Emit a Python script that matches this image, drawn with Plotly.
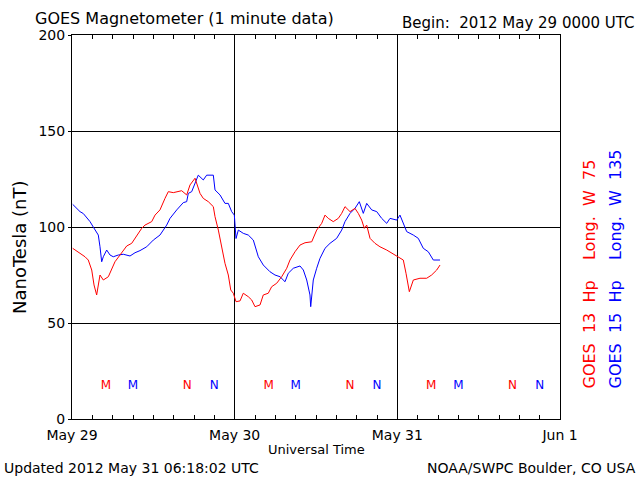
import plotly.graph_objects as go

# ---- data (hours since 2012-05-29 00:00 UTC, nT) ----
g15_hours = [0.10, 1.18, 1.67, 2.66, 3.14, 3.88, 4.13, 4.38, 4.62, 5.12, 5.61, 6.09, 6.83, 7.57, 8.56,
             9.30, 10.03, 11.02, 12.00, 12.98, 13.97, 14.46, 15.45, 16.42, 16.92, 17.16, 17.66, 18.15,
             18.63, 19.37, 19.87, 20.85, 21.10, 21.84, 22.57, 23.06, 23.56, 23.95, 24.20, 24.54, 25.27,
             26.01, 26.75, 27.49, 28.22, 29.21, 29.95, 30.69, 31.43, 31.91, 32.65, 33.64, 34.13, 34.63,
             35.11, 35.22, 35.60, 36.10, 36.59, 37.33, 38.07, 39.05, 39.79, 40.28, 41.02, 41.75, 42.39,
             42.98, 43.48, 44.22, 44.96, 45.69, 46.43, 46.92, 47.91, 48.39, 48.88, 49.38, 50.36, 51.09,
             51.83, 52.57, 53.31, 54.30]
g15_values = [111.8, 108.0, 107.0, 102.8, 100.0, 95.8, 89.7, 81.9, 84.5, 88.0, 85.4, 84.5, 85.4, 85.8, 84.9,
              86.6, 87.7, 89.7, 93.2, 95.8, 101.0, 104.5, 108.9, 112.7, 113.2, 117.5, 118.4, 122.7,
              127.0, 124.5, 127.0, 127.0, 119.3, 116.7, 112.3, 112.3, 108.0, 106.2, 94.0, 98.4, 96.7,
              95.8, 93.2, 84.5, 80.2, 76.7, 75.0, 74.1, 71.5, 75.9, 78.5, 79.7, 77.6, 72.4,
              64.6, 58.5, 72.4, 78.5, 83.7, 88.9, 91.5, 94.1, 98.4, 102.8, 107.1, 109.7, 113.2,
              107.1, 112.3, 108.9, 108.0, 104.5, 101.9, 104.5, 103.6, 106.2, 101.9, 97.6, 95.8, 94.1,
              88.9, 87.1, 82.8, 82.8]

g13_hours = [0.10, 1.18, 1.92, 2.40, 2.91, 3.25, 3.64, 4.13, 4.62, 5.36, 5.86, 6.34, 7.08, 8.07, 8.81,
             9.55, 10.28, 10.77, 11.76, 12.25, 12.98, 13.72, 14.21, 14.95, 16.18, 16.92, 17.41, 18.15,
             18.40, 18.89, 19.37, 20.11, 20.85, 21.10, 21.59, 22.09, 22.57, 23.06, 23.42, 23.80, 24.20,
             24.79, 25.27, 26.01, 26.51, 27.00, 27.74, 28.22, 28.96, 29.46, 30.20, 30.94, 31.68, 32.16,
             32.90, 33.64, 34.38, 35.37, 36.10, 36.84, 37.33, 37.81, 38.55, 39.29, 39.79, 40.28, 41.02,
             41.75, 42.24, 42.74, 43.13, 43.48, 43.97, 44.70, 45.44, 46.43, 47.41, 48.15, 48.88, 49.28,
             49.77, 50.36, 51.34, 52.33, 53.06, 53.81, 54.30]
g13_values = [88.9, 86.3, 84.5, 82.8, 77.6, 69.8, 64.6, 75.0, 72.4, 74.1, 78.5, 81.9, 85.4, 90.1, 91.5,
              95.8, 99.3, 101.0, 102.8, 106.2, 108.9, 114.9, 118.4, 117.9, 118.9, 116.7, 121.9, 125.4,
              122.7, 117.5, 114.9, 113.2, 110.6, 105.4, 98.4, 89.7, 81.1, 75.0, 67.2, 65.5, 61.1,
              61.5, 65.5, 63.7, 62.0, 58.5, 59.4, 64.6, 65.5, 68.9, 70.7, 74.1, 78.5, 82.8,
              87.1, 90.6, 91.8, 92.3, 98.4, 101.9, 106.2, 104.5, 102.8, 104.5, 107.1, 110.6, 108.0,
              109.7, 107.1, 103.6, 99.3, 101.0, 94.1, 91.5, 89.7, 88.0, 85.9, 84.5, 82.8, 75.9,
              66.3, 72.4, 73.3, 73.3, 75.0, 77.6, 80.2]

# local midnight (M) / noon (N) markers
g13_m_hours = [5, 29, 53]
g13_n_hours = [17, 41, 65]
g15_m_hours = [9, 33, 57]
g15_n_hours = [21, 45, 69]
marker_level = 17

day_ticks = [0, 24, 48, 72]
day_labels = ["May 29", "May 30", "May 31", "Jun 1"]
hour_ticks = list(range(0, 73, 3))
y_ticks = [0, 50, 100, 150, 200]

RED = "#ff0000"
BLUE = "#0000ff"
FONT = "DejaVu Sans"
NB = "\u00a0"

hour_labels = [day_labels[day_ticks.index(h)] if h in day_ticks else "" for h in hour_ticks]

fig = go.Figure()
fig.add_trace(go.Scatter(x=g15_hours, y=g15_values, mode="lines",
                         line=dict(color=BLUE, width=1), hoverinfo="skip"))
fig.add_trace(go.Scatter(x=g13_hours, y=g13_values, mode="lines",
                         line=dict(color=RED, width=1), hoverinfo="skip"))

for hrs, txt, col in [(g13_m_hours, "M", RED), (g15_m_hours, "M", BLUE),
                      (g13_n_hours, "N", RED), (g15_n_hours, "N", BLUE)]:
    fig.add_trace(go.Scatter(x=hrs, y=[marker_level] * len(hrs), mode="text",
                             text=[txt] * len(hrs),
                             textfont=dict(color=col, size=12, family=FONT),
                             hoverinfo="skip"))

fig.update_layout(
    width=640, height=480,
    margin=dict(l=72, r=80, t=35, b=61, autoexpand=False),
    paper_bgcolor="white", plot_bgcolor="white",
    showlegend=False,
    font=dict(family=FONT, size=13, color="black"),
    xaxis=dict(range=[0, 72], tickvals=hour_ticks, ticktext=hour_labels,
               showgrid=False,
               showline=True, linecolor="black", linewidth=1, mirror="allticks",
               ticks="inside", ticklen=4, tickcolor="black", ticklabelstandoff=3,
               zeroline=False, tickfont=dict(size=14, family=FONT)),
    xaxis2=dict(range=[0, 72], overlaying="x", tickvals=day_ticks[1:-1], showticklabels=False,
                ticks="", showgrid=True, gridcolor="black", gridwidth=1, zeroline=False,
                showline=False),
    yaxis=dict(range=[0, 200], tickvals=y_ticks,
               showgrid=True, gridcolor="black", gridwidth=1,
               showline=True, linecolor="black", linewidth=1, mirror=True,
               ticks="outside", ticklen=3, tickcolor="black",
               zeroline=False, tickfont=dict(size=14, family=FONT)),
)
# an invisible trace to anchor the overlay axis carrying the day gridlines
fig.add_trace(go.Scatter(x=[day_ticks[0]], y=[y_ticks[0]], xaxis="x2", mode="markers",
                         marker=dict(opacity=0), hoverinfo="skip"))

W, H = 488.0, 384.0
def px(x):
    return (x - 72) / W
def py(y):
    return (419 - y) / H

def spaced(words):
    return (NB * 2).join(words)

ann = [
    dict(text="GOES Magnetometer (1 minute data)", x=px(33), y=py(18), xanchor="left", yanchor="middle",
         font=dict(size=16)),
    dict(text="Begin:" + NB * 2 + "2012 May 29 0000 UTC", x=px(637), y=py(23), xanchor="right",
         yanchor="middle", font=dict(size=15)),
    dict(text="Universal Time", x=0.5, y=py(449), xanchor="center", yanchor="middle", font=dict(size=13)),
    dict(text="Updated 2012 May 31 06:18:02 UTC", x=px(2), y=py(468), xanchor="left", yanchor="middle",
         font=dict(size=14)),
    dict(text="NOAA/SWPC Boulder, CO USA", x=px(638), y=py(468), xanchor="right", yanchor="middle",
         font=dict(size=14)),
    dict(text="NanoTesla (nT)", x=px(20), y=py(247), xanchor="center", yanchor="middle", textangle=-90,
         font=dict(size=18)),
    dict(text=spaced(["GOES", "13", "Hp", "", "Long.", "W", "75"]),
         x=px(589), y=py(391), xanchor="center", yanchor="bottom",
         textangle=-90, font=dict(size=16, color=RED)),
    dict(text=spaced(["GOES", "15", "Hp", "", "Long.", "W", "135"]),
         x=px(615), y=py(391), xanchor="center", yanchor="bottom",
         textangle=-90, font=dict(size=16, color=BLUE)),
]
for a in ann:
    a.update(xref="paper", yref="paper", showarrow=False)
    a["font"].setdefault("family", FONT)
    a["font"].setdefault("color", "black")
fig.update_layout(annotations=ann)

fig.write_html("out.html", config={"displayModeBar": False, "staticPlot": True},
               post_script="document.body.style.margin='0';document.body.style.padding='0';")
